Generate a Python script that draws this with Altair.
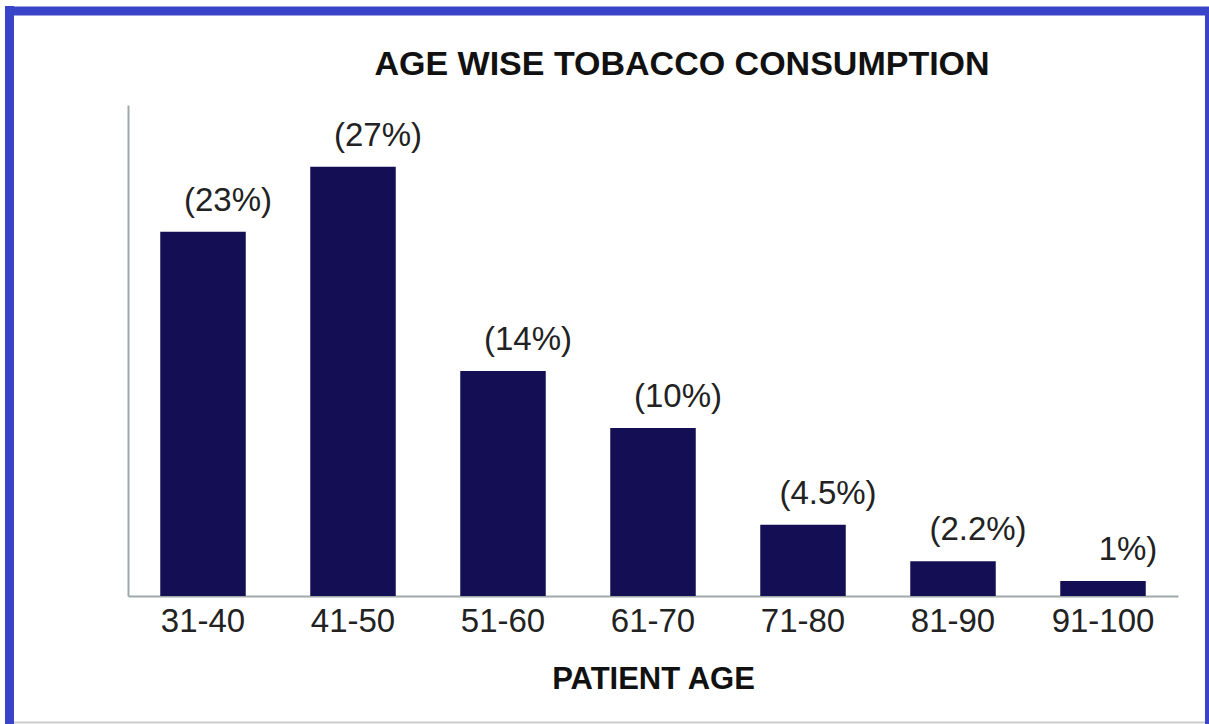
import altair as alt
import pandas as pd

ages = ["31-40", "41-50", "51-60", "61-70", "71-80", "81-90", "91-100"]
# bar heights (percent)
values = [23, 27.1, 14.2, 10.6, 4.5, 2.2, 0.95]
labels = ["(23%)", "(27%)", "(14%)", "(10%)", "(4.5%)", "(2.2%)", "1%)"]

df = pd.DataFrame({"age": ages, "value": values, "label": labels})

FONT = "Liberation Sans"
BAR = "#140f55"
FRAME = "#3a44c9"
AXISC = "#9eaaaa"

x_enc = alt.X("age:N", sort=ages,
              scale=alt.Scale(paddingInner=0.43, paddingOuter=0.215),
              axis=alt.Axis(title="PATIENT AGE", labelAngle=0, labelFontSize=33,
                            labelFont=FONT, labelColor="#222222", labelPadding=9,
                            ticks=False, domainColor=AXISC, domainWidth=2,
                            titleFont=FONT, titleFontSize=31, titleFontWeight="bold",
                            titleColor="#111111", titlePadding=26))
y_enc = alt.Y("value:Q", scale=alt.Scale(domain=[0, 31], nice=False),
              axis=alt.Axis(title=None, labels=False, ticks=False, grid=False,
                            domainColor=AXISC, domainWidth=2))

bars = alt.Chart(df).mark_bar(color=BAR).encode(x=x_enc, y=y_enc)
text = alt.Chart(df).mark_text(font=FONT, fontSize=33, color="#222222",
                               baseline="alphabetic", dy=-21, dx=25).encode(
    x=alt.X("age:N", sort=ages), y="value:Q", text="label:N")

one = pd.DataFrame({"k": [0]})
left = alt.Chart(one).mark_rule(color=FRAME, strokeWidth=9).encode(
    x=alt.value(-118.5), y=alt.value(-99), y2=alt.value(625))
top = alt.Chart(one).mark_rule(color=FRAME, strokeWidth=9).encode(
    x=alt.value(-123), x2=alt.value(1081), y=alt.value(-94))
right = alt.Chart(one).mark_rule(color=FRAME, strokeWidth=4).encode(
    x=alt.value(1079), y=alt.value(-98), y2=alt.value(625))
bottom = alt.Chart(one).mark_rule(color="#cccccc", strokeWidth=2).encode(
    x=alt.value(-114), x2=alt.value(1077), y=alt.value(617.5))

chart = alt.layer(bars, text, left, top, right, bottom).properties(
    width=1050, height=491,
    title=alt.TitleParams("AGE WISE TOBACCO CONSUMPTION", font=FONT, fontSize=34,
                          fontWeight="bold", color="#111111", dx=29, offset=-107,
                          frame="group", baseline="alphabetic"),
    autosize=alt.AutoSizeParams(type="none"),
    padding={"left": 128, "top": 105, "right": 31, "bottom": 128},
    background="white",
).configure_view(stroke=None)

chart.save("out.html", embed_options={"renderer": "svg", "actions": False})
